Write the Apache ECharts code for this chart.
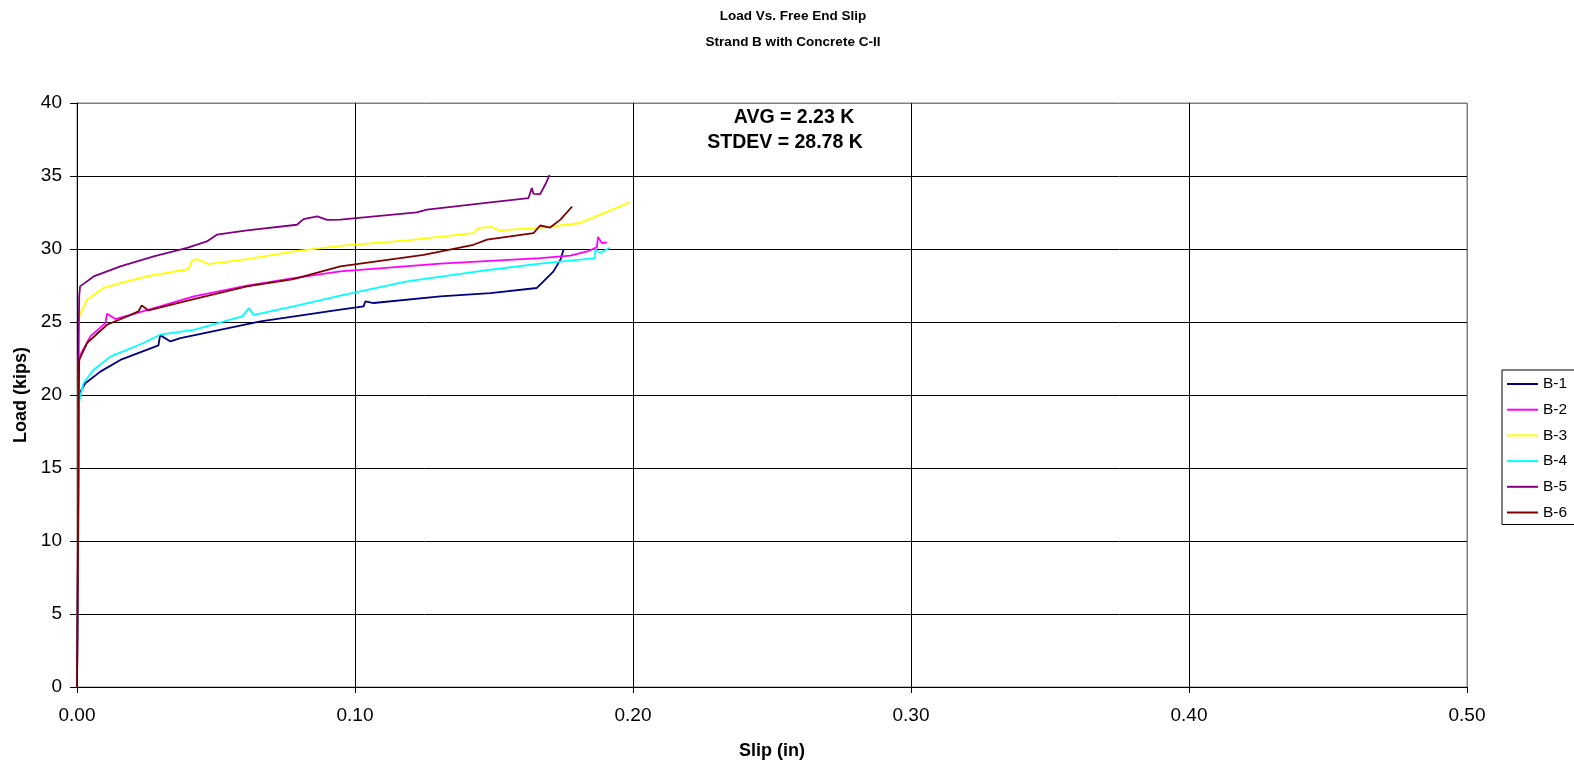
<!DOCTYPE html>
<html>
<head>
<meta charset="utf-8">
<title>Load Vs. Free End Slip</title>
<script src="https://cdn.jsdelivr.net/npm/echarts@6/dist/echarts.min.js"></script>
<style>
  html, body { margin: 0; padding: 0; background: #fff; }
  #chart { width: 1574px; height: 768px; }
</style>
</head>
<body>
<div id="chart"></div>
<script>
// Slip (in) vs. load (kips) for each strand specimen
const seriesNames = ['B-1', 'B-2', 'B-3', 'B-4', 'B-5', 'B-6'];
const seriesColors = ['#000080', '#FF00FF', '#FFFF00', '#00FFFF', '#800080', '#800000'];

const b1 = [[0,0],[0.0004,10],[0.0006,18],[0.0008,20.1],[0.003,20.8],[0.0084,21.6],[0.0156,22.4],[0.0293,23.4],
  [0.0299,24.1],[0.0336,23.67],[0.0372,23.9],[0.066,25.05],[0.0947,25.85],[0.1031,26.07],[0.1037,26.41],[0.1067,26.3],
  [0.1307,26.76],[0.1487,26.98],[0.1654,27.33],[0.1678,27.78],[0.1714,28.47],[0.1739,29.27],[0.175,29.95]];
const b2 = [[0,0],[0.0004,12],[0.0006,20],[0.0008,22.6],[0.0048,24.02],[0.0102,24.92],[0.0108,25.56],[0.0138,25.2],
  [0.0299,26.07],[0.042,26.76],[0.0612,27.49],[0.0779,28.01],[0.0947,28.47],[0.1307,29.0],[0.1666,29.38],[0.1775,29.55],
  [0.1835,29.83],[0.187,30.11],[0.1874,30.82],[0.1888,30.41],[0.1906,30.45]];
const b3 = [[0,0],[0.0004,12],[0.0006,22],[0.0008,25.4],[0.0036,26.53],[0.0096,27.33],[0.0156,27.66],[0.0251,28.12],
  [0.0402,28.63],[0.0414,29.22],[0.0432,29.31],[0.0473,28.97],[0.0612,29.31],[0.0779,29.84],[0.0947,30.22],[0.1187,30.59],
  [0.1426,31.09],[0.1444,31.44],[0.1493,31.51],[0.1517,31.28],[0.1666,31.44],[0.181,31.78],[0.1894,32.46],[0.199,33.2]];
const b4 = [[0,0],[0.0004,10],[0.0006,17],[0.0008,19.55],[0.0023,20.8],[0.006,21.73],[0.012,22.63],[0.0239,23.56],
  [0.0299,24.13],[0.042,24.46],[0.0594,25.38],[0.0618,25.95],[0.0636,25.49],[0.0779,26.07],[0.0947,26.8],[0.1187,27.78],
  [0.1487,28.58],[0.1666,29.0],[0.1864,29.38],[0.1864,29.99],[0.1882,29.72],[0.1916,30.09]];
const b5 = [[0,0],[0.0004,12],[0.0006,24],[0.0008,26.8],[0.0011,27.44],[0.006,28.12],[0.0156,28.81],[0.0276,29.49],
  [0.0396,30.07],[0.0467,30.52],[0.0503,30.98],[0.0612,31.27],[0.0791,31.66],[0.0815,32.05],[0.0864,32.23],[0.09,32.0],
  [0.0947,32.01],[0.1222,32.51],[0.1259,32.69],[0.1487,33.2],[0.1624,33.49],[0.1636,34.17],[0.1642,33.78],[0.1666,33.76],
  [0.1684,34.4],[0.17,35.08]];
const b6 = [[0,0],[0.0004,10],[0.0006,20],[0.0008,22.4],[0.0036,23.56],[0.0108,24.81],[0.018,25.38],[0.0221,25.73],
  [0.0233,26.14],[0.0257,25.79],[0.042,26.57],[0.0612,27.44],[0.0779,27.94],[0.0947,28.81],[0.1247,29.6],[0.1426,30.29],
  [0.1475,30.64],[0.1642,31.09],[0.1666,31.61],[0.1702,31.47],[0.1739,32.01],[0.1781,32.91]];
const seriesData = [b1, b2, b3, b4, b5, b6];

const xTicks = { min: 0, max: 0.5, interval: 0.1 };
const yTicks = { min: 0, max: 40, interval: 5 };
const statLines = ['AVG = 2.23 K', 'STDEV = 28.78 K'];

const font = 'Liberation Sans, Arial, sans-serif';
const chart = echarts.init(document.getElementById('chart'));

// inner grid lines are black, the outermost line (top / right edge) is grey
const ySplitColors = ['#000', '#000', '#000', '#000', '#000', '#000', '#000', '#000', '#808080'];
const xSplitColors = ['#000', '#000', '#000', '#000', '#000', '#808080'];

chart.setOption({
  backgroundColor: '#fff',
  animation: false,
  title: {
    text: 'Load Vs. Free End Slip\nStrand B with Concrete C-II',
    left: 788, top: -2, textAlign: 'center',
    textStyle: { fontFamily: font, fontSize: 13.5, fontWeight: 'bold', color: '#000', lineHeight: 26 }
  },
  grid: {
    left: 77, right: 107, top: 103, bottom: 81,
    outerBoundsMode: 'none',
    containLabel: false,
    show: true, borderColor: '#808080', borderWidth: 1, backgroundColor: '#fff'
  },
  legend: {
    data: seriesNames,
    orient: 'vertical',
    left: 1502, top: 370,
    itemWidth: 31, itemHeight: 14, itemGap: 9.7,
    borderColor: '#000', borderWidth: 1, borderRadius: 0,
    padding: [6, 30, 4, 5],
    backgroundColor: '#fff',
    icon: 'path://M0,6 L31,6 L31,8 L0,8 Z',
    textStyle: { fontFamily: font, fontSize: 15.5, color: '#000' }
  },
  xAxis: {
    type: 'value',
    min: xTicks.min, max: xTicks.max, interval: xTicks.interval,
    name: 'Slip (in)', nameLocation: 'middle', nameGap: 55,
    nameTextStyle: { fontFamily: font, fontSize: 18, fontWeight: 'bold', color: '#000' },
    axisLine: { show: true, onZero: false, lineStyle: { color: '#000', width: 1 } },
    axisTick: { show: true, length: 6, lineStyle: { color: '#000' } },
    axisLabel: { fontFamily: font, fontSize: 19, color: '#000', margin: 19,
      formatter: v => v.toFixed(2) },
    splitLine: { show: true, lineStyle: { color: xSplitColors, width: 1 } }
  },
  yAxis: {
    type: 'value',
    min: yTicks.min, max: yTicks.max, interval: yTicks.interval,
    name: 'Load (kips)', nameLocation: 'middle', nameGap: 47,
    nameTextStyle: { fontFamily: font, fontSize: 18, fontWeight: 'bold', color: '#000' },
    axisLine: { show: true, onZero: false, lineStyle: { color: '#000', width: 1 } },
    axisTick: { show: true, length: 7, lineStyle: { color: '#000' } },
    axisLabel: { fontFamily: font, fontSize: 19, color: '#000', margin: 15 },
    splitLine: { show: true, lineStyle: { color: ySplitColors, width: 1 } }
  },
  graphic: statLines.map((t, i) => ({
    type: 'text',
    x: i === 0 ? 794 : 785, y: 118 + i * 25,
    z: 100,
    style: {
      text: t,
      align: 'center',
      verticalAlign: 'middle',
      font: 'bold 19.5px ' + font,
      fill: '#000'
    }
  })),
  series: seriesNames.map((name, i) => ({
    name,
    type: 'line',
    data: seriesData[i],
    showSymbol: false,
    symbol: 'none',
    lineStyle: { color: seriesColors[i], width: 1.8 },
    itemStyle: { color: seriesColors[i] },
    z: 2 + i
  }))
});
</script>
</body>
</html>
